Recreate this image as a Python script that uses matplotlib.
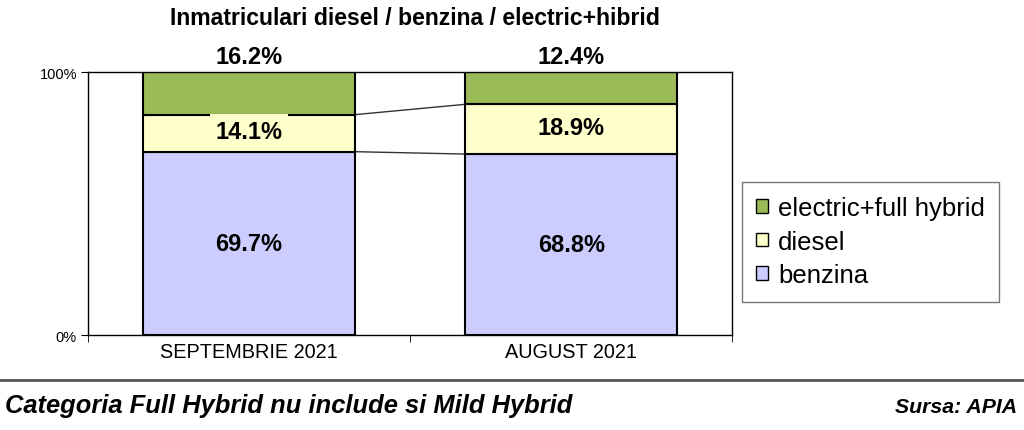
import matplotlib
matplotlib.use("Agg")
import matplotlib.pyplot as plt
import numpy as np

# data
categories = ["SEPTEMBRIE 2021", "AUGUST 2021"]
series = ["benzina", "diesel", "electric+full hybrid"]
benzina = [69.7, 68.8]
diesel = [14.1, 18.9]
electric = [16.2, 12.4]
colors = ["#CCCCFF", "#FFFFCC", "#9BBB59"]

plt.rcParams["font.family"] = ["Liberation Sans", "DejaVu Sans"]

fig = plt.figure(figsize=(10.24, 4.31), dpi=100)
ax = fig.add_axes([0.086, 0.2204, 0.629, 0.6102])

x = np.arange(len(categories))
w = 0.66
values = [benzina, diesel, electric]
bottom = np.zeros(len(categories))
bars = []
for name, vals, c in zip(series, values, colors):
    b = ax.bar(x, vals, w, bottom=bottom, color=c, edgecolor="black",
               linewidth=1.5, label=name, zorder=2)
    bars.append(b)
    bottom = bottom + np.array(vals)

# series lines between the bars
cum = np.cumsum(values, axis=0)
for level in cum[:2]:
    ax.plot([x[0] + w / 2, x[1] - w / 2], [level[0], level[1]],
            color="#333333", lw=1.0, zorder=1)

# labels
for i in x:
    ax.text(i, benzina[i] / 2, f"{benzina[i]}%", ha="center", va="center",
            fontsize=17, fontweight="bold", zorder=4)
    box = dict(facecolor="#FFFFCC", edgecolor="none", pad=4) if i == 0 else None
    ax.text(i, benzina[i] + diesel[i] / 2 + 0.8, f"{diesel[i]}%", ha="center",
            va="center", fontsize=17, fontweight="bold", zorder=4, bbox=box)
    ax.text(i, 101.5, f"{electric[i]}%", ha="center", va="bottom",
            fontsize=17, fontweight="bold", clip_on=False)

ax.set_xlim(-0.5, 1.5)
ax.set_ylim(0, 100)
ax.set_yticks([0, 100])
ax.set_yticklabels(["0%", "100%"], fontsize=10.5)
ax.set_xticks(x)
ax.set_xticklabels(categories, fontsize=14.3)
ax.tick_params(axis="x", length=0, pad=5)
ax.set_xticks([-0.5, 0.5, 1.5], minor=True)
ax.tick_params(axis="x", which="minor", length=5, direction="out")
ax.tick_params(axis="y", length=5, direction="out", pad=3)
for s in ax.spines.values():
    s.set_color("black")
    s.set_linewidth(1.0)

leg = ax.legend(handles=[bars[2], bars[1], bars[0]],
                labels=["electric+full hybrid", "diesel", "benzina"],
                loc="center left", bbox_to_anchor=(1.0155, 0.355),
                fontsize=18.5, frameon=True, fancybox=False,
                handlelength=0.45, handleheight=0.45, handletextpad=0.4,
                labelspacing=0.38, borderpad=0.55, borderaxespad=0)
leg.get_frame().set_edgecolor("#555555")
leg.get_frame().set_linewidth(1.0)
for h in leg.legend_handles:
    h.set_linewidth(1.0)

fig.text(0.405, 0.958, "Inmatriculari diesel / benzina / electric+hibrid",
         ha="center", va="center", fontsize=16.6, fontweight="bold")

fig.add_artist(plt.Line2D([0, 1], [1 - 381 / 431] * 2, color="#555555", lw=2))
fig.text(0.005, 1 - 406 / 431, "Categoria Full Hybrid nu include si Mild Hybrid",
         ha="left", va="center", fontsize=18.4, fontweight="bold",
         style="italic")
fig.text(0.993, 1 - 408 / 431, "Sursa: APIA", ha="right", va="center",
         fontsize=15.3, fontweight="bold", style="italic")

fig.savefig("out.png", dpi=100)
